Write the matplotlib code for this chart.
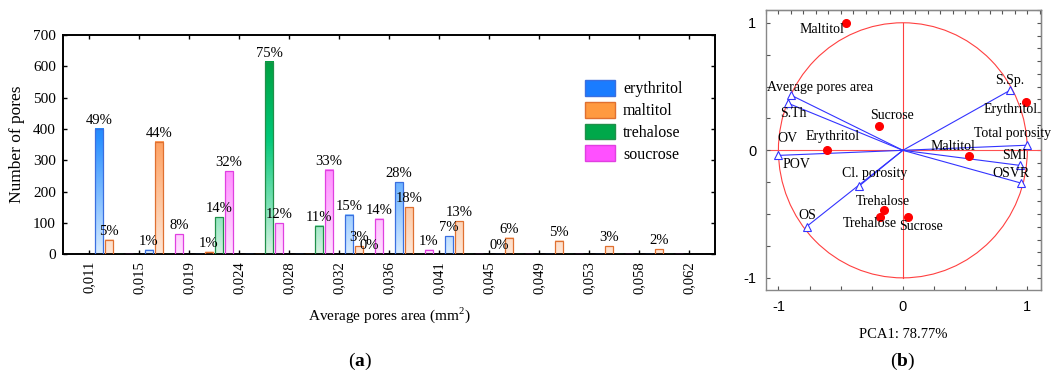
import numpy as np
import matplotlib
matplotlib.use('Agg')
import matplotlib.pyplot as plt
from matplotlib.colors import LinearSegmentedColormap
from matplotlib.patches import Patch, Circle

plt.rcParams['font.family'] = ['Liberation Serif', 'DejaVu Serif']
plt.rcParams['mathtext.fontset'] = 'custom'
plt.rcParams['mathtext.rm'] = 'Liberation Serif'
plt.rcParams['mathtext.bf'] = 'Liberation Serif:bold'

# --- (a) pore size distribution ---
area_ticks = ['0,011', '0,015', '0,019', '0,024', '0,028', '0,032', '0,036',
              '0,041', '0,045', '0,049', '0,053', '0,058', '0,062']

erythritol = [400, 13, 0, 0, 0, 125, 230, 57, 0, 0, 0, 0]
erythritol_pct = ['49%', '1%', None, None, None, '15%', '28%', '7%', '0%', None, None, None]
maltitol = [45, 358, 8, 0, 0, 25, 150, 105, 52, 42, 25, 15]
maltitol_pct = ['5%', '44%', '1%', None, None, '3%', '18%', '13%', '6%', '5%', '3%', '2%']
trehalose = [0, 0, 117, 615, 90, 0, 0, 0, 0, 0, 0, 0]
trehalose_pct = [None, None, '14%', '75%', '11%', '0%', None, None, None, None, None, None]
soucrose = [0, 63, 265, 99, 270, 113, 13, 0, 0, 0, 0, 0]
soucrose_pct = [None, '8%', '32%', '12%', '33%', '14%', '1%', None, None, None, None, None]

series = [
    ('erythritol', erythritol, erythritol_pct, ('#d6ebff', '#2a90ff', '#0062e0'), '#1a7cff', '#3a6fe0'),
    ('maltitol', maltitol, maltitol_pct, ('#fde6d6', '#ffa060', '#ea7428'), '#ff9a40', '#e07030'),
    ('trehalose', trehalose, trehalose_pct, ('#d4f2e0', '#00c878', '#00a040'), '#00a84a', '#20904a'),
    ('soucrose', soucrose, soucrose_pct, ('#ffe0ff', '#ff70ff', '#e020e0'), '#ff50ff', '#e040e0'),
]

# --- (b) PCA biplot ---
var_names = ['Average pores area', 'S.Th', 'S.Sp.', 'Total porosity', 'SMI',
             'OSVR', 'POV', 'Cl. porosity', 'OS']
var_x = [-0.90, -0.92, 0.86, 1.00, 0.94, 0.95, -1.005, -0.353, -0.774]
var_y = [0.433, 0.368, 0.47, 0.04, -0.118, -0.257, -0.04, -0.281, -0.598]
var_label_xy = [(-1.09, 0.49), (-0.99, 0.29), (0.74, 0.55), (0.575, 0.13), (0.80, -0.04),
                (0.72, -0.18), (-0.97, -0.11), (-0.49, -0.18), (-0.84, -0.51)]
ov_label_xy = (-1.01, 0.094)

obs_names = ['Maltitol', 'Erythritol', 'Sucrose', 'Erythritol', 'Maltitol',
             'Trehalose', 'Trehalose', 'Sucrose']
obs_x = [-0.46, 0.99, -0.19, -0.61, 0.53, -0.155, -0.185, 0.043]
obs_y = [1.0, 0.38, 0.19, 0.0, -0.045, -0.467, -0.525, -0.52]
obs_label_xy = [(-0.83, 0.945), (0.65, 0.32), (-0.26, 0.27), (-0.78, 0.11), (0.22, 0.03),
                (-0.38, -0.40), (-0.48, -0.577), (-0.03, -0.60)]

fig = plt.figure(figsize=(10.51, 3.85), dpi=100)

ax = fig.add_axes([0.0599, 0.340, 0.6204, 0.569])
n_bins = len(erythritol)
idx = np.arange(n_bins)
width = 0.17
vmax = 620.0
for k, (name, vals, pcts, grad, _, edge) in enumerate(series):
    cmap = LinearSegmentedColormap.from_list(name, [(0, grad[0]), (0.6, grad[1]), (1, grad[2])])
    xs = idx + 0.2 * (k + 1)
    bars = ax.bar(xs, vals, width, facecolor='none', edgecolor=edge, linewidth=0.9, zorder=3)
    # vertical gradient fill inside each bar
    for b, v in zip(bars, vals):
        if v <= 0:
            continue
        x0 = b.get_x()
        grad_img = np.linspace(0, v / vmax, 64)[:, None]
        ax.imshow(grad_img, cmap=cmap, vmin=0, vmax=1, origin='lower', aspect='auto',
                  extent=[x0, x0 + width, 0, v], zorder=2, interpolation='bilinear')
    for x, v, p in zip(xs, vals, pcts):
        if p is not None:
            ax.annotate(p, (x, v), xytext=(0, 1.5), textcoords='offset points',
                        ha='center', va='bottom', fontsize=10.5, zorder=4)

ax.set_xlim(-0.52, 12.52)
ax.set_ylim(0, 700)
ax.set_xticks(np.arange(len(area_ticks)))
ax.set_xticklabels(area_ticks, rotation=90, fontsize=10.5)
ax.set_yticks(np.arange(0, 701, 100))
ax.tick_params(axis='y', labelsize=11)
ax.tick_params(direction='in', length=3, width=1, top=True, right=True, pad=5)
for s in ax.spines.values():
    s.set_linewidth(1.4)
ax.set_ylabel('Number of pores', fontsize=12.5, labelpad=6)
ax.set_xlabel('Average pores area (mm$^2$)', fontsize=11, labelpad=8)

handles = [Patch(facecolor=c, edgecolor=e, linewidth=1) for (_, _, _, _, c, e) in series]
ax.legend(handles, [s[0] for s in series], loc='upper left', bbox_to_anchor=(0.80, 0.795),
          frameon=False, fontsize=11.5, handlelength=1.9, handleheight=1.15,
          labelspacing=0.28, handletextpad=0.5, borderpad=0, borderaxespad=0)

fig.text(0.343, 0.035, r'($\mathbf{a}$)', ha='center', va='bottom', fontsize=14)

# biplot
bx = fig.add_axes([0.7288, 0.2468, 0.2617, 0.7272])
bx.set_xlim(-1.10, 1.11)
bx.set_ylim(-1.095, 1.10)
bx.add_patch(Circle((0, 0), 1, fill=False, edgecolor='#ff4040', linewidth=0.8, zorder=1))
bx.axhline(0, color='#ff5050', linewidth=0.8, zorder=1)
bx.plot([0, 0], [-1, 1], color='#ff4040', linewidth=0.8, zorder=1)
for vx, vy in zip(var_x, var_y):
    bx.plot([0, vx], [0, vy], color='#3333ff', linewidth=0.8, zorder=2)
bx.plot(var_x, var_y, linestyle='none', marker='^', markersize=6, markerfacecolor='white',
        markeredgecolor='#3333ff', markeredgewidth=0.8, zorder=3)
bx.plot(obs_x, obs_y, linestyle='none', marker='o', markersize=5.5, color='#ff0000', zorder=3)
for name, (lx, ly) in zip(var_names, var_label_xy):
    bx.text(lx, ly, name, fontsize=10, ha='left', va='center', clip_on=False, zorder=4)
bx.text(ov_label_xy[0], ov_label_xy[1], 'OV', fontsize=10, ha='left', va='center', zorder=4)
for name, (lx, ly) in zip(obs_names, obs_label_xy):
    bx.text(lx, ly, name, fontsize=10, ha='left', va='center', clip_on=False, zorder=4)

bx.set_xticks([-1, 0, 1])
bx.set_yticks([-1, 0, 1])
bx.set_xticklabels(['-1', '0', '1'], family=['Liberation Sans'], fontsize=10.5)
bx.set_yticklabels(['-1', '0', '1'], family=['Liberation Sans'], fontsize=10.5)
bx.set_xticks(np.arange(-1, 1.01, 0.25), minor=True)
bx.set_yticks(np.arange(-1, 1.01, 0.25), minor=True)
bx.tick_params(which='both', direction='in', length=3, width=0.8, color='#555555', pad=7)
for s in bx.spines.values():
    s.set_color('#888888')
    s.set_linewidth(1.0)
fine = np.round(np.arange(-1.1, 1.11, 0.1), 2)
top = bx.secondary_xaxis('top')
top.set_xticks(fine)
top.tick_params(direction='in', length=3, width=0.8, color='#555555', labeltop=False)
right = bx.secondary_yaxis('right')
right.set_yticks(fine)
right.tick_params(direction='in', length=3, width=0.8, color='#555555', labelright=False)
bx.set_xlabel('PCA1: 78.77%', fontsize=10.5, labelpad=10)

fig.text(0.859, 0.035, r'($\mathbf{b}$)', ha='center', va='bottom', fontsize=14)

fig.savefig('out.png', dpi=100)
